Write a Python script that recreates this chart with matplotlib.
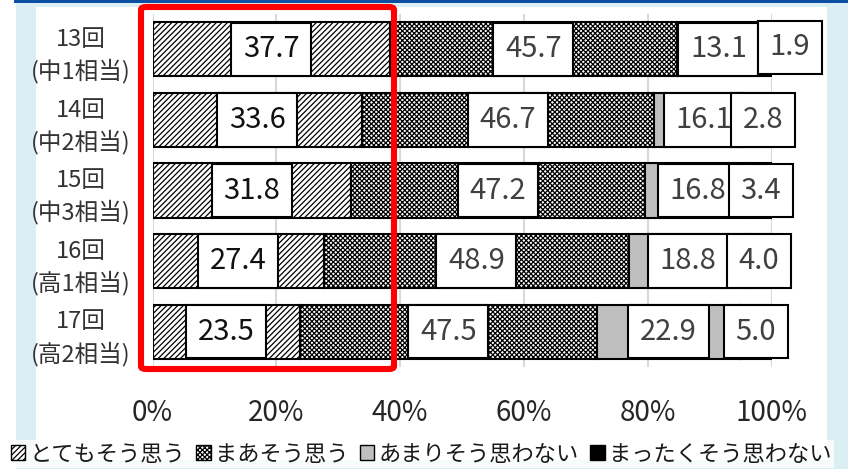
import numpy as np
import matplotlib
matplotlib.use("Agg")
from matplotlib import pyplot as plt
from matplotlib.patches import Patch, Rectangle, FancyBboxPatch

plt.rcParams['font.family'] = ['Noto Sans CJK JP', 'DejaVu Sans']
plt.rcParams['hatch.linewidth'] = 0.9

# data
rounds = ['13回\n(中1相当)', '14回\n(中2相当)', '15回\n(中3相当)', '16回\n(高1相当)', '17回\n(高2相当)']
very = [37.7, 33.6, 31.8, 27.4, 23.5]
fairly = [45.7, 46.7, 47.2, 48.9, 47.5]
not_much = [13.1, 16.1, 16.8, 18.8, 22.9]
not_at_all = [1.9, 2.8, 3.4, 4.0, 5.0]
categories = ['とてもそう思う', 'まあそう思う', 'あまりそう思わない', 'まったくそう思わない']
xticks = [0, 20, 40, 60, 80, 100]

series = [very, fairly, not_much, not_at_all]
styles = [
    dict(facecolor='white', hatch='//////'),
    dict(facecolor='white', hatch='xxxxxxx'),
    dict(facecolor='#bfbfbf', hatch=None),
    dict(facecolor='black', hatch=None),
]
label_colors = ['#111111', '#404040', '#404040', '#404040']

W, H = 848, 469
fig = plt.figure(figsize=(W / 100, H / 100), dpi=100)
fig.patch.set_facecolor('white')

# frame decoration around the chart
fig.add_artist(Rectangle((16 / W, 0), (W - 16) / W, (H - 3) / H, transform=fig.transFigure,
                         facecolor='#daeef3', edgecolor='none', zorder=-3))
fig.add_artist(Rectangle((14 / W, (H - 3) / H), (W - 14) / W, 3 / H, transform=fig.transFigure,
                         facecolor='#0b4ea2', edgecolor='none', zorder=-3))
fig.add_artist(Rectangle((36 / W, 9 / H), 791 / W, 453 / H, transform=fig.transFigure,
                         facecolor='white', edgecolor='none', zorder=-2))

ax = fig.add_axes([152.5 / W, 102 / H, 619 / W, 353 / H])
ax.set_facecolor('none')

data = np.array(series)
totals = data.sum(axis=0)
pct = data / totals * 100
y = np.arange(len(rounds))
left = np.zeros(len(rounds))

# label nudges (percent units), the 1.9 label was moved aside in the original
nudge = {(3, 0): (3.9, -0.03)}

for k in range(len(series)):
    ax.barh(y, pct[k], left=left, height=0.77, edgecolor='black', linewidth=1.5,
            zorder=2, **styles[k])
    for i in range(len(rounds)):
        dx, dy = nudge.get((k, i), (0, 0))
        ax.text(left[i] + pct[k][i] / 2 + dx, y[i] + dy, f'{series[k][i]:.1f}',
                ha='center', va='center', fontsize=21, color=label_colors[k], zorder=4,
                bbox=dict(boxstyle='square,pad=0.4', facecolor='white',
                          edgecolor='black', linewidth=1.5))
    left += pct[k]

ax.set_xlim(0, 100)
ax.set_ylim(len(rounds) - 0.5, -0.5)
ax.set_xticks(xticks)
ax.set_xticklabels([f'{v}%' for v in xticks])
ax.set_yticks(y)
ax.set_yticklabels(rounds, multialignment='center', linespacing=1.4)
ax.tick_params(axis='x', length=0, pad=22, labelsize=20, labelcolor='#262626')
ax.tick_params(axis='y', length=0, pad=16, labelsize=17, labelcolor='#333333')
ax.grid(axis='x', color='#d9d9d9', linewidth=1.5, zorder=0)
ax.set_axisbelow(True)
for s in ax.spines.values():
    s.set_visible(False)

# highlight box over the first category
fig.add_artist(FancyBboxPatch((141 / W, 100 / H), 253 / W, 362 / H, transform=fig.transFigure,
                              boxstyle='round,pad=0,rounding_size=0.006',
                              facecolor='none', edgecolor='#ff0000', linewidth=4.4, zorder=10))

handles = [Patch(edgecolor='black', linewidth=1.0, label=c, **st) for c, st in zip(categories, styles)]
leg = fig.legend(handles=handles, loc='center', bbox_to_anchor=(421 / W, (H - 454) / H), ncol=4,
                 fontsize=16, frameon=True, handlelength=0.65, handleheight=0.65,
                 handletextpad=0.2, columnspacing=0.5, borderpad=0.1, borderaxespad=0)
leg.get_frame().set_facecolor('white')
leg.get_frame().set_edgecolor('none')
leg.get_frame().set_boxstyle('square', pad=0)
for t in leg.get_texts():
    t.set_color('#1a1a1a')

fig.savefig('out.png', dpi=100)
